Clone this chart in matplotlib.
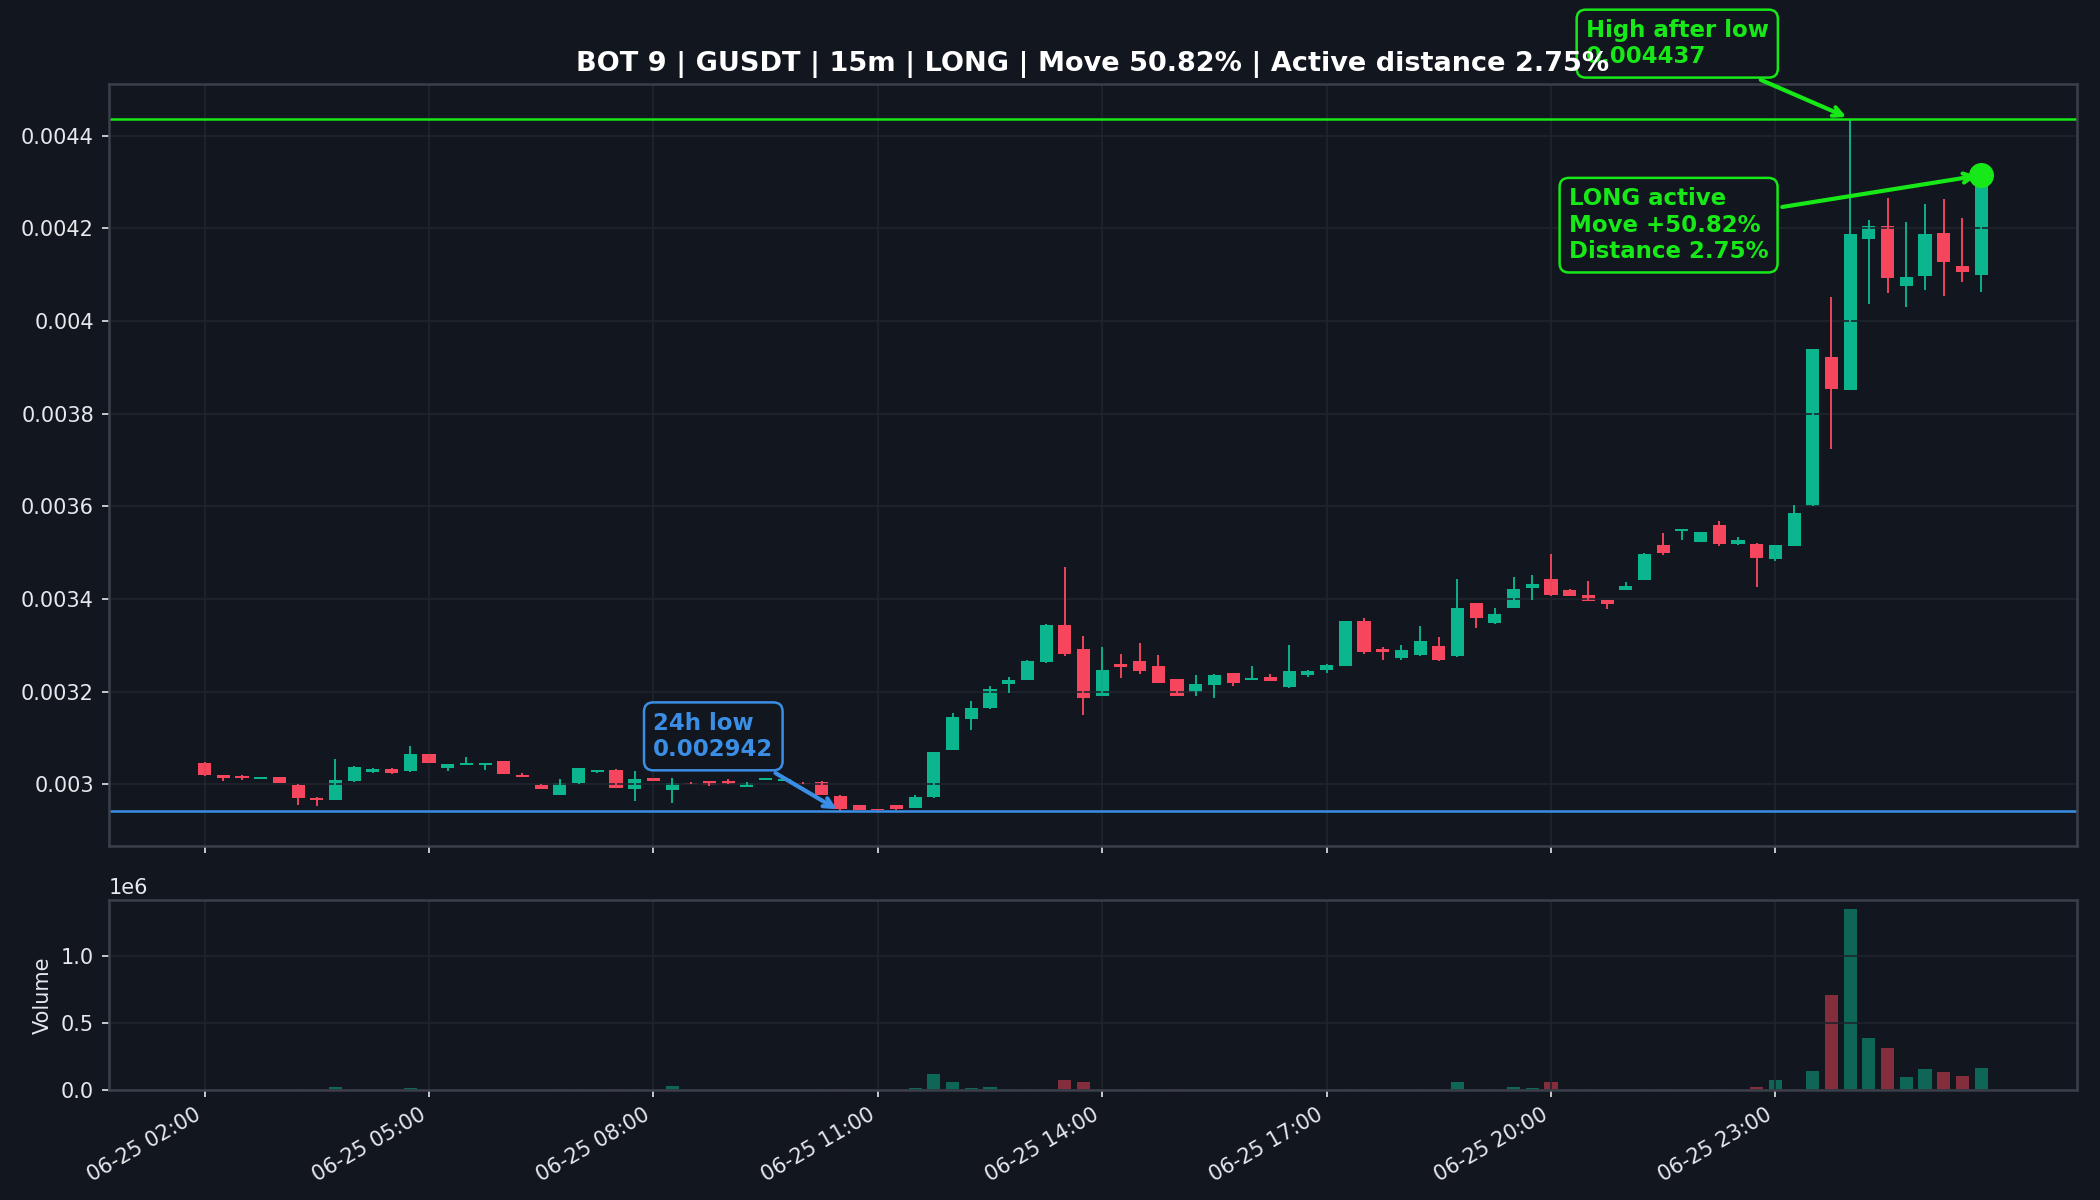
import matplotlib
matplotlib.use("Agg")
import matplotlib.pyplot as plt
from matplotlib.ticker import FuncFormatter
import numpy as np
import pandas as pd

# 15m candles, one day of data
times = pd.date_range("2025-06-25 02:00", periods=96, freq="15min")

opens = [
    0.003047, 0.003020, 0.003019, 0.003012, 0.003017, 0.002999, 0.002971, 0.002967,
    0.003007, 0.003027, 0.003034, 0.003029, 0.003065, 0.003035, 0.003042, 0.003042,
    0.003050, 0.003020, 0.002999, 0.002978, 0.003003, 0.003027, 0.003032, 0.002991,
    0.003014, 0.002988, 0.003004, 0.003007, 0.003007, 0.002995, 0.003010, 0.003007,
    0.003004, 0.003006, 0.002976, 0.002955, 0.002946, 0.002955, 0.002950, 0.002972,
    0.003075, 0.003141, 0.003166, 0.003217, 0.003226, 0.003264, 0.003345, 0.003292,
    0.003191, 0.003259, 0.003266, 0.003255, 0.003227, 0.003200, 0.003214, 0.003240,
    0.003226, 0.003233, 0.003210, 0.003236, 0.003247, 0.003256, 0.003352, 0.003292,
    0.003272, 0.003280, 0.003298, 0.003277, 0.003391, 0.003348, 0.003381, 0.003424,
    0.003444, 0.003420, 0.003409, 0.003398, 0.003420, 0.003442, 0.003516, 0.003548,
    0.003524, 0.003561, 0.003518, 0.003520, 0.003487, 0.003515, 0.003601, 0.003923,
    0.003852, 0.004178, 0.004206, 0.004075, 0.004098, 0.004191, 0.004118, 0.004100,
]
highs = [
    0.003048, 0.003021, 0.003021, 0.003017, 0.003017, 0.003000, 0.002972, 0.003054,
    0.003039, 0.003036, 0.003036, 0.003083, 0.003066, 0.003045, 0.003060, 0.003047,
    0.003050, 0.003024, 0.003000, 0.003012, 0.003036, 0.003032, 0.003033, 0.003030,
    0.003015, 0.003013, 0.003005, 0.003008, 0.003011, 0.003006, 0.003015, 0.003011,
    0.003005, 0.003007, 0.002977, 0.002956, 0.002947, 0.002956, 0.002978, 0.003071,
    0.003155, 0.003180, 0.003212, 0.003231, 0.003269, 0.003346, 0.003469, 0.003321,
    0.003296, 0.003282, 0.003306, 0.003279, 0.003228, 0.003237, 0.003239, 0.003241,
    0.003255, 0.003238, 0.003300, 0.003248, 0.003259, 0.003353, 0.003360, 0.003297,
    0.003300, 0.003341, 0.003318, 0.003443, 0.003392, 0.003380, 0.003448, 0.003453,
    0.003498, 0.003422, 0.003440, 0.003399, 0.003437, 0.003500, 0.003542, 0.003551,
    0.003545, 0.003568, 0.003535, 0.003521, 0.003517, 0.003603, 0.003940, 0.004051,
    0.004437, 0.004218, 0.004265, 0.004213, 0.004252, 0.004263, 0.004222, 0.004315,
]
lows = [
    0.003019, 0.003007, 0.003009, 0.003012, 0.003004, 0.002955, 0.002954, 0.002966,
    0.003006, 0.003025, 0.003022, 0.003027, 0.003046, 0.003029, 0.003042, 0.003031,
    0.003022, 0.003017, 0.002990, 0.002977, 0.003002, 0.003024, 0.002992, 0.002964,
    0.003007, 0.002959, 0.003000, 0.002996, 0.003001, 0.002994, 0.003010, 0.003007,
    0.003001, 0.002977, 0.002942, 0.002944, 0.002943, 0.002946, 0.002950, 0.002971,
    0.003074, 0.003117, 0.003163, 0.003198, 0.003225, 0.003263, 0.003278, 0.003151,
    0.003190, 0.003229, 0.003238, 0.003219, 0.003190, 0.003191, 0.003187, 0.003212,
    0.003226, 0.003223, 0.003209, 0.003233, 0.003240, 0.003255, 0.003281, 0.003268,
    0.003268, 0.003278, 0.003267, 0.003276, 0.003338, 0.003347, 0.003380, 0.003398,
    0.003406, 0.003407, 0.003395, 0.003378, 0.003419, 0.003441, 0.003495, 0.003528,
    0.003523, 0.003515, 0.003517, 0.003426, 0.003483, 0.003514, 0.003600, 0.003725,
    0.003851, 0.004038, 0.004060, 0.004030, 0.004068, 0.004054, 0.004085, 0.004063,
]
closes = [
    0.003020, 0.003014, 0.003014, 0.003017, 0.003004, 0.002970, 0.002967, 0.003009,
    0.003037, 0.003034, 0.003024, 0.003065, 0.003046, 0.003044, 0.003047, 0.003047,
    0.003022, 0.003017, 0.002991, 0.003004, 0.003035, 0.003032, 0.002993, 0.003011,
    0.003007, 0.003004, 0.003000, 0.002999, 0.003001, 0.003004, 0.003015, 0.003011,
    0.003001, 0.002977, 0.002948, 0.002945, 0.002944, 0.002947, 0.002972, 0.003070,
    0.003145, 0.003164, 0.003205, 0.003226, 0.003266, 0.003345, 0.003281, 0.003186,
    0.003248, 0.003254, 0.003245, 0.003220, 0.003190, 0.003216, 0.003237, 0.003218,
    0.003230, 0.003223, 0.003246, 0.003245, 0.003257, 0.003352, 0.003286, 0.003285,
    0.003290, 0.003310, 0.003268, 0.003380, 0.003359, 0.003369, 0.003422, 0.003433,
    0.003409, 0.003407, 0.003396, 0.003390, 0.003429, 0.003498, 0.003500, 0.003550,
    0.003544, 0.003519, 0.003527, 0.003489, 0.003516, 0.003586, 0.003939, 0.003854,
    0.004189, 0.004206, 0.004094, 0.004095, 0.004187, 0.004127, 0.004105, 0.004315,
]
volumes = [
    3000, 2000, 2000, 1500, 2500, 4000, 3000, 25000,
    10000, 3000, 2500, 18000, 3000, 2000, 2500, 2000,
    3000, 1500, 2500, 4000, 4500, 2000, 3500, 5000,
    2000, 33000, 1500, 2000, 2000, 2500, 2000, 1500,
    1500, 4000, 6000, 3000, 2000, 2500, 18000, 116000,
    56000, 18000, 25000, 6000, 7000, 9000, 78000, 63000,
    8000, 3000, 4000, 3000, 4000, 2500, 3000, 2500,
    2000, 2000, 10000, 2000, 3000, 6000, 5000, 3000,
    3000, 4000, 3000, 63000, 5000, 10000, 25000, 18000,
    56000, 4000, 10000, 3000, 3000, 6000, 4000, 3000,
    3000, 4000, 3000, 25000, 71000, 10000, 139000, 709000,
    1350000, 390000, 314000, 94000, 154000, 132000, 101000, 162000,
]

bot_name = "BOT 9"
symbol = "GUSDT"
timeframe = "15m"
side = "LONG"

BG = "#12161e"
UP = "#0bb68e"
DOWN = "#f6465d"
GREEN = "#17e817"
BLUE = "#3a8ee6"
GRID = "#1f242d"
SPINE = "#3a3f4a"
TXT = "#e6e8ec"

o = np.array(opens)
h = np.array(highs)
l = np.array(lows)
c = np.array(closes)
v = np.array(volumes)
x = np.arange(len(o))
up = c >= o
cols = np.where(up, UP, DOWN)

low_idx = int(np.argmin(l))
low = l[low_idx]
high_idx = low_idx + int(np.argmax(h[low_idx:]))
high = h[high_idx]
last = c[-1]
move = (high / low - 1) * 100
dist = (high - last) / high * 100

fig = plt.figure(figsize=(14, 8), dpi=150, facecolor=BG)
ax = fig.add_axes([0.0517, 0.295, 0.9374, 0.635])
ax2 = fig.add_axes([0.0517, 0.0917, 0.9374, 0.1583], sharex=ax)

for a in (ax, ax2):
    a.set_facecolor(BG)
    a.grid(True, color=GRID, lw=0.8)
    for s in a.spines.values():
        s.set_color(SPINE)
        s.set_linewidth(1.2)
    a.tick_params(colors=TXT, labelsize=10)

# candles
body = np.maximum(np.abs(c - o), 0.0000025)
ax.bar(x, body, bottom=np.minimum(o, c), width=0.7, color=cols)
ax.vlines(x, l, h, color=cols, lw=0.9)

ax.axhline(low, color=BLUE, lw=1.2)
ax.axhline(high, color=GREEN, lw=1.2)
ax.plot(x[-1], last, "o", ms=11, color=GREEN, zorder=5)

box_kw = dict(textcoords="offset points", ha="center", va="center", ma="left",
              fontsize=11, fontweight="bold")
ax.annotate("24h low\n%.6f" % low, xy=(low_idx, low), xytext=(-61, 36),
            color=BLUE,
            bbox=dict(boxstyle="round,pad=0.4", fc=BG, ec=BLUE, lw=1.2),
            arrowprops=dict(arrowstyle="->", color=BLUE, lw=2), **box_kw)
ax.annotate("High after low\n%.6f" % high, xy=(high_idx, high), xytext=(-83, 36),
            color=GREEN,
            bbox=dict(boxstyle="round,pad=0.4", fc=BG, ec=GREEN, lw=1.2),
            arrowprops=dict(arrowstyle="->", color=GREEN, lw=2), **box_kw)
ax.annotate("%s active\nMove +%.2f%%\nDistance %.2f%%" % (side, move, dist),
            xy=(x[-1], last), xytext=(-150, -24), color=GREEN,
            bbox=dict(boxstyle="round,pad=0.4", fc=BG, ec=GREEN, lw=1.2),
            arrowprops=dict(arrowstyle="->", color=GREEN, lw=2), **box_kw)

ax.set_title("%s | %s | %s | %s | Move %.2f%% | Active distance %.2f%%"
             % (bot_name, symbol, timeframe, side, move, dist),
             color="white", fontsize=13, fontweight="bold")
ax.yaxis.set_major_formatter(FuncFormatter(lambda val, pos: "%g" % val))
ax.tick_params(labelbottom=False)

# volume
ax2.bar(x, v, width=0.7, color=cols, alpha=0.5)
ax2.set_ylabel("Volume", color=TXT, fontsize=10)
ax2.yaxis.get_offset_text().set_color(TXT)

ticks = x[::12]
ax2.set_xticks(ticks)
ax2.set_xticklabels([times[i].strftime("%m-%d %H:%M") for i in ticks],
                    rotation=30, ha="right")

fig.savefig("out.png", dpi=150, facecolor=BG)
